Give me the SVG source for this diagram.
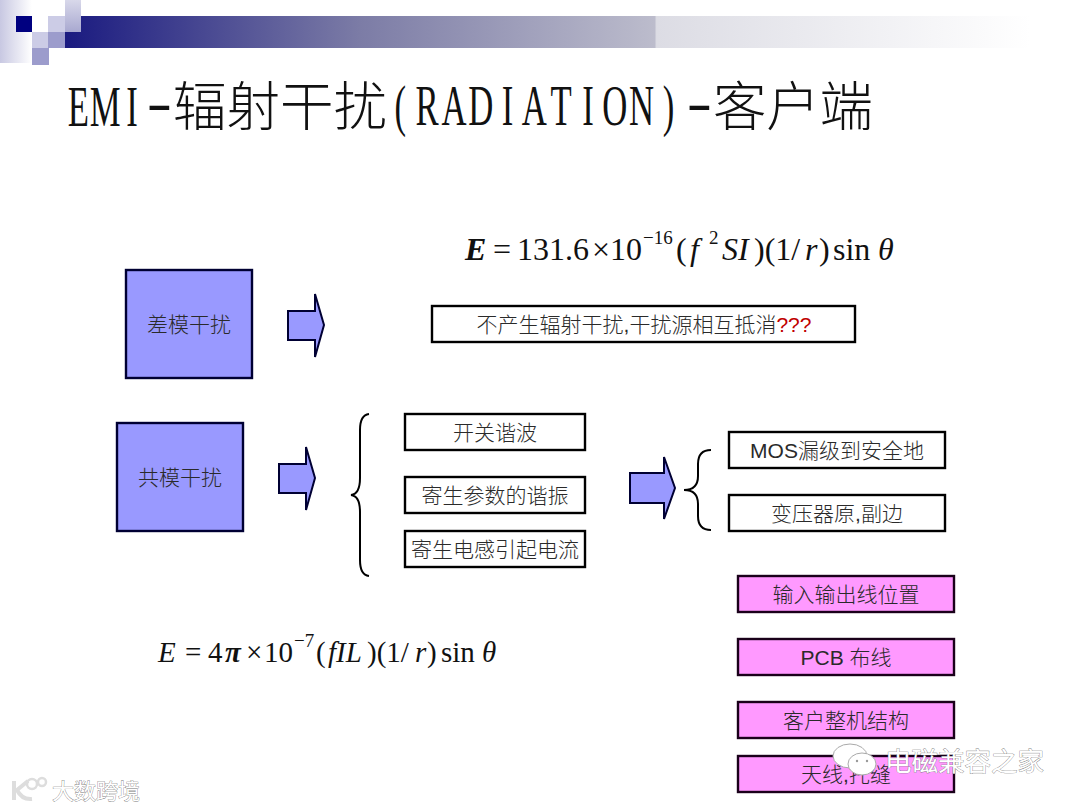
<svg xmlns="http://www.w3.org/2000/svg" width="1080" height="810" viewBox="0 0 1080 810">
<style>
.t{font-family:"Liberation Sans","Noto Sans CJK SC",sans-serif;font-size:21px;fill:#2a2a2a;text-anchor:middle;font-weight:300}
.h{font-family:"Noto Sans CJK SC",sans-serif;font-size:53.5px;fill:#111;font-weight:300}
.l{font-family:"Liberation Serif",serif;font-size:56px;fill:#111;text-anchor:middle}
.f{font-family:"Liberation Serif","Times New Roman",serif;font-size:32px;fill:#111}
.g{font-family:"Liberation Serif","Times New Roman",serif;font-size:29px;fill:#111}
.i{font-style:italic}
.s{font-size:19px}
.ss{font-size:19px}
.w{fill:none;stroke:#000;stroke-width:2}
.b{stroke:#000;stroke-width:2.4;fill:#fff}
.m{stroke:#000033;stroke-width:2.4;fill:#9999ff}
.p{stroke:#1a001a;stroke-width:2.4;fill:#ff99ff}
.a{fill:#9999ff;stroke:#000033;stroke-width:2;stroke-linejoin:miter}
.wm{font-family:"Noto Sans CJK SC",sans-serif;fill:#fff;stroke:#777;stroke-width:.7;paint-order:stroke}
</style>
<defs>
<linearGradient id="bar" x1="0" x2="1" y1="0" y2="0"><stop offset="0" stop-color="#1a1a80"/><stop offset=".306" stop-color="#7c7ca6"/><stop offset=".611" stop-color="#bcbccc"/><stop offset=".613" stop-color="#dcdce4"/><stop offset="1" stop-color="#fff"/></linearGradient>
<linearGradient id="strip" x1="0" x2="1" y1="0" y2="0"><stop offset="0" stop-color="#c8c8e2"/><stop offset="1" stop-color="#fff"/></linearGradient>
<linearGradient id="sq" x1="0" x2="0" y1="0" y2="1"><stop offset="0" stop-color="#d8d8ea"/><stop offset="1" stop-color="#a8a8d0"/></linearGradient>
</defs>
<rect width="1080" height="810" fill="#fff"/>
<g id="banner">
<rect x="65" y="16" width="965" height="32" fill="url(#bar)"/>
<rect x="0" y="0" width="32" height="63" fill="url(#strip)"/>
<rect x="16" y="16" width="16" height="16" fill="#000080"/>
<rect x="48" y="16" width="17" height="16" fill="#ccccE6"/>
<rect x="65" y="0" width="16" height="32" fill="url(#sq)"/>
<rect x="32" y="32" width="16" height="16" fill="#ccccE6"/>
<rect x="48" y="32" width="17" height="16" fill="#9c9ccc"/>
<rect x="32" y="48" width="17" height="17" fill="#9c9ccc"/>
</g>
<g id="title">
<g transform="scale(.62 1)">
<text class="l" x="126.5 169.7 212.9" y="126">EMI</text>
<text class="l" x="645.8 689 732.3 775.5 818.7 861.9 905.2 948.4 991.6 1034.8" y="125">(RADIATION</text>
<text class="l" x="1078.1" y="125">)</text>
</g>
<g transform="scale(1.35 1)">
<text class="l" x="118" y="121">-</text>
<text class="l" x="518" y="121">-</text>
</g>
<text class="h" x="173" y="126" textLength="214" lengthAdjust="spacing">辐射干扰</text>
<text class="h" x="713" y="126" textLength="160" lengthAdjust="spacing">客户端</text>
</g>
<g id="formula-top">
<text class="f i" font-weight="bold" x="465" y="260">E</text>
<text class="f" x="493" y="260">=</text>
<text class="f" x="517" y="260">131.6</text>
<text class="f" x="592" y="260">×</text>
<text class="f" x="610" y="260">10</text>
<text class="f s" x="643" y="244">−16</text>
<text class="f" x="676" y="260">(</text>
<text class="f i" x="690" y="260">f</text>
<text class="f s" x="709" y="244">2</text>
<text class="f i" x="722" y="260">SI</text>
<text class="f" x="754" y="260">)(1/</text>
<text class="f i" x="805" y="260">r</text>
<text class="f" x="819" y="260">)</text>
<text class="f" x="833" y="260">sin</text>
<text class="f i" x="878" y="260">θ</text>
</g>
<g id="formula-bottom">
<text class="g i" x="158" y="662">E</text>
<text class="g" x="185" y="662">=</text>
<text class="g" x="208" y="662">4</text>
<text class="g i" font-weight="bold" x="225" y="662">π</text>
<text class="g" x="246" y="662">×</text>
<text class="g" x="264" y="662">10</text>
<text class="g ss" x="294" y="647">−7</text>
<text class="g" x="316" y="662">(</text>
<text class="g i" x="328" y="662">fIL</text>
<text class="g" x="367" y="662">)(1/</text>
<text class="g i" x="415" y="662">r</text>
<text class="g" x="427" y="662">)</text>
<text class="g" x="441" y="662">sin</text>
<text class="g i" x="482" y="662">θ</text>
</g>
<g id="node-diff"><rect class="m" x="126" y="270" width="126" height="108"/><text class="t" x="189" y="332">差模干扰</text></g>
<g id="node-common"><rect class="m" x="117" y="423" width="126" height="108"/><text class="t" x="180" y="485">共模干扰</text></g>
<g id="node-noemit"><rect class="b" x="432" y="306" width="423" height="36"/><text class="t" x="644" y="332">不产生辐射干扰,干扰源相互抵消<tspan fill="#c00000">???</tspan></text></g>
<g id="node-switch"><rect class="b" x="405" y="414" width="180" height="36"/><text class="t" x="495" y="440">开关谐波</text></g>
<g id="node-parasitic"><rect class="b" x="405" y="477" width="180" height="36"/><text class="t" x="495" y="503">寄生参数的谐振</text></g>
<g id="node-inductance"><rect class="b" x="405" y="531" width="180" height="36"/><text class="t" x="495" y="557">寄生电感引起电流</text></g>
<g id="node-mos"><rect class="b" x="729" y="432" width="216" height="36"/><text class="t" x="837" y="458">MOS漏级到安全地</text></g>
<g id="node-transformer"><rect class="b" x="729" y="495" width="216" height="36"/><text class="t" x="837" y="521">变压器原,副边</text></g>
<g id="node-io"><rect class="p" x="738" y="576" width="216" height="36"/><text class="t" x="846" y="602">输入输出线位置</text></g>
<g id="node-pcb"><rect class="p" x="738" y="639" width="216" height="36"/><text class="t" x="846" y="665">PCB 布线</text></g>
<g id="node-chassis"><rect class="p" x="738" y="702" width="216" height="36"/><text class="t" x="846" y="728">客户整机结构</text></g>
<g id="node-antenna"><rect class="p" x="738" y="756" width="216" height="36"/><text class="t" x="846" y="782">天线,托缝</text></g>
<g id="connectors">
<path class="a" d="M288 311H315V294L324 325L315 357V340H288Z"/>
<path class="a" d="M279 464H306V447L315 478L306 510V493H279Z"/>
<path class="a" d="M630 473H664V457L675 488L664 519V503H630Z"/>
<path class="w" d="M369 414Q360 415 360 430V478Q360 494 351 495Q360 496 360 512V560Q360 575 369 576"/>
<path class="w" d="M711 450Q698 450 698 464V476Q698 490 684 490Q698 490 698 504V516Q698 530 711 530"/>
</g>
<g id="watermarks">
<ellipse cx="850" cy="756" rx="17" ry="12" fill="#fff" stroke="#aaa"/>
<ellipse cx="862" cy="764" rx="14" ry="11" fill="#fff" stroke="#aaa"/>
<circle cx="857" cy="761" r="1.2" fill="#999"/><circle cx="867" cy="761" r="1.2" fill="#999"/>
<text class="wm" x="885" y="771" font-size="26.5">电磁兼容之家</text>
<path d="M14 781V800M28 781L17 790Q22 800 32 799" fill="none" stroke="#ddd" stroke-width="4"/>
<circle cx="32" cy="784" r="5" fill="none" stroke="#ddd" stroke-width="2.5"/>
<circle cx="42" cy="782" r="4" fill="none" stroke="#ddd" stroke-width="2.5"/>
<text class="wm" x="52" y="799" font-size="22">大数跨境</text>
</g>
</svg>
